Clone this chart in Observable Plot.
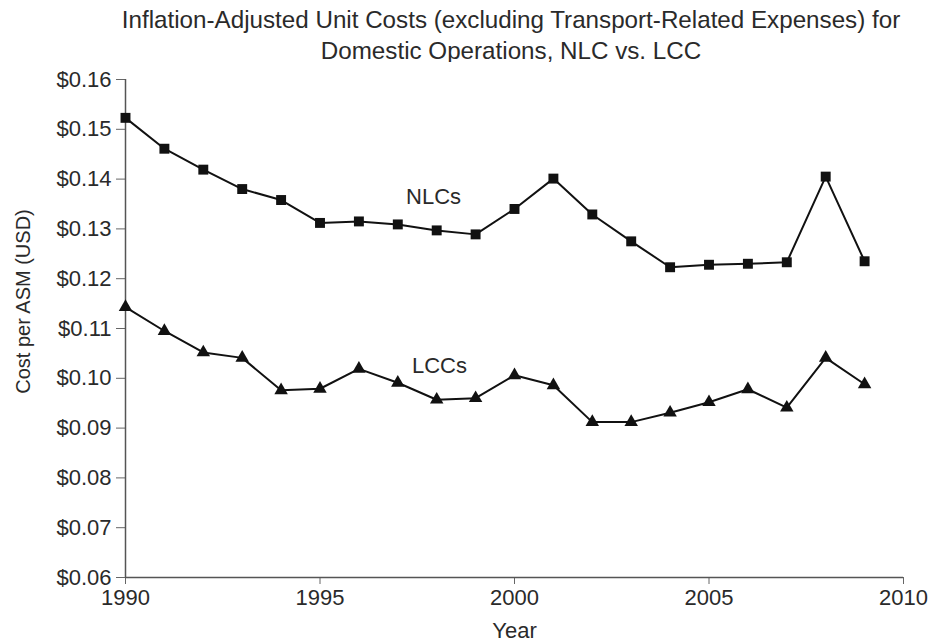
<!DOCTYPE html>
<html>
<head>
<meta charset="utf-8">
<script src="https://cdn.jsdelivr.net/npm/d3@7"></script>
<script src="https://cdn.jsdelivr.net/npm/@observablehq/plot@0.6"></script>
<style>
  html, body { margin: 0; padding: 0; background: #fff; }
  #wrap { width: 930px; height: 643px; position: relative; font-family: "Liberation Sans", Arial, sans-serif; color: #2a2a2a; overflow: hidden; }
  #title { position: absolute; left: 0; top: 4px; width: 930px; text-align: center; font-size: 24.2px; line-height: 31px; padding-left: 92px; box-sizing: border-box; white-space: nowrap; }
  #chart { position: absolute; left: 0; top: 62px; }
</style>
</head>
<body>
<div id="wrap">
  <div id="title">Inflation-Adjusted Unit Costs (excluding Transport-Related Expenses) for<br>Domestic Operations, NLC vs. LCC</div>
  <div id="chart"></div>
</div>
<script>
const years = [1990,1991,1992,1993,1994,1995,1996,1997,1998,1999,2000,2001,2002,2003,2004,2005,2006,2007,2008,2009];
const nlc = [0.1523,0.1461,0.1419,0.1380,0.1358,0.1312,0.1315,0.1309,0.1297,0.1289,0.1340,0.1401,0.1329,0.1275,0.1223,0.1228,0.1230,0.1233,0.1405,0.1235];
const lcc = [0.1143,0.1095,0.1052,0.1041,0.0976,0.0979,0.1019,0.0991,0.0957,0.0960,0.1006,0.0986,0.0912,0.0912,0.0931,0.0952,0.0978,0.0941,0.1041,0.0988];
const xTicks = [1990,1995,2000,2005,2010];
const yTicks = [0.06,0.07,0.08,0.09,0.10,0.11,0.12,0.13,0.14,0.15,0.16];
const seriesLabels = [
  {name: "NLCs", year: 1997.92, value: 0.1364},
  {name: "LCCs", year: 1998.07, value: 0.1024}
];
const yLabel = "Cost per ASM (USD)";
const xLabel = "Year";

const nlcData = years.map((y, i) => ({year: y, value: nlc[i]}));
const lccData = years.map((y, i) => ({year: y, value: lcc[i]}));
const fmt = v => "$" + d3.format(".2f")(v);

const chart = Plot.plot({
  width: 930,
  height: 581,
  marginLeft: 125,
  marginRight: 27,
  marginTop: 17,
  marginBottom: 66,
  style: {fontFamily: '"Liberation Sans", Arial, sans-serif', fontSize: "22px", color: "#2a2a2a", background: "#fff", overflow: "visible"},
  x: {domain: [1990, 2010]},
  y: {domain: [0.06, 0.16]},
  marks: [
    Plot.axisY({ticks: yTicks, tickFormat: fmt, tickSize: 9, tickPadding: 5, label: null, stroke: "#666", fill: "#2a2a2a", fontSize: 22}),
    Plot.axisX({ticks: xTicks, tickFormat: d => String(d), tickSize: 7, tickPadding: 5, label: null, stroke: "#666", fill: "#2a2a2a", fontSize: 22}),
    Plot.text([yLabel], {text: d => d, frameAnchor: "left", textAnchor: "middle", rotate: -90, dx: -102, dy: -27, fontSize: 20, fill: "#2a2a2a"}),
    Plot.text([xLabel], {text: d => d, frameAnchor: "bottom", dy: 60, fontSize: 22, fill: "#2a2a2a"}),
    Plot.ruleX([1990], {stroke: "#555", strokeWidth: 1.5}),
    Plot.ruleY([0.06], {stroke: "#555", strokeWidth: 1.5}),
    Plot.line(nlcData, {x: "year", y: "value", stroke: "#111", strokeWidth: 2}),
    Plot.line(lccData, {x: "year", y: "value", stroke: "#111", strokeWidth: 2}),
    Plot.dot(nlcData, {x: "year", y: "value", symbol: "square", r: 5.6, fill: "#111", stroke: "none"}),
    Plot.dot(lccData, {x: "year", y: "value", symbol: "triangle", r: 5, fill: "#111", stroke: "none"}),
    Plot.text(seriesLabels, {x: "year", y: "value", text: "name", fill: "#2a2a2a", fontSize: 22})
  ]
});
document.getElementById("chart").appendChild(chart);
</script>
</body>
</html>
